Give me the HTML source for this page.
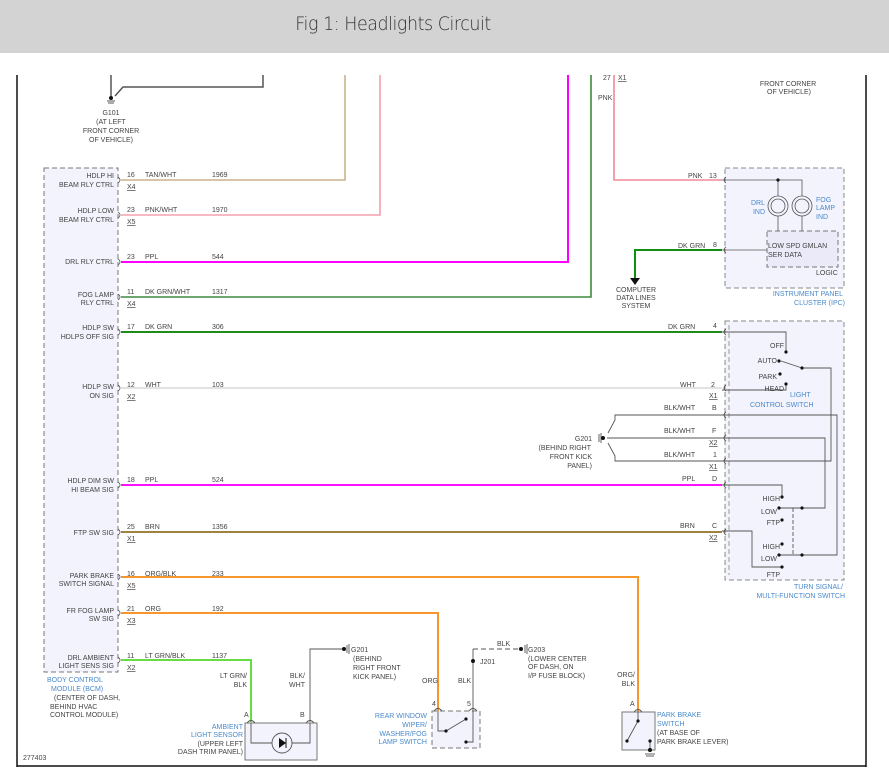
<!DOCTYPE html>
<html><head><meta charset="utf-8"><style>
html,body{margin:0;padding:0;background:#fff;}
body{width:889px;height:784px;overflow:hidden;position:relative;}
#hdr{position:absolute;left:0;top:0;width:889px;height:53px;background:#d3d3d3;}
#hdr span{position:absolute;left:0;width:786px;top:13px;text-align:center;font:19px "DejaVu Sans","Liberation Sans",sans-serif;font-weight:200;color:#333;letter-spacing:-0.5px;transform:scaleX(0.92);transform-origin:393px 0;}
svg{position:absolute;left:0;top:0;}
text{font-family:"Liberation Sans",sans-serif;font-size:7px;fill:#444;}
.b{fill:#4a8acb;}
.r{text-anchor:end;}
.m{text-anchor:middle;}
</style></head><body>
<div id="hdr"><span>Fig 1: Headlights Circuit</span></div>
<svg width="889" height="784" viewBox="0 0 889 784">
<!-- frame -->
<line x1="17" y1="75" x2="17" y2="767" stroke="#111" stroke-width="1.5"/>
<line x1="866" y1="75" x2="866" y2="767" stroke="#111" stroke-width="1.5"/>
<line x1="17" y1="766" x2="866" y2="766" stroke="#111" stroke-width="1.5"/>

<!-- BCM -->
<rect x="44" y="168" width="74" height="504" fill="#f3f3fd" stroke="#777" stroke-dasharray="5,3"/>
<!-- IPC -->
<rect x="725" y="168" width="119" height="120" fill="#f3f3fd" stroke="#888" stroke-dasharray="5,3"/>
<rect x="767" y="231" width="71" height="36" fill="#eaeaf8" stroke="#777" stroke-dasharray="5,3"/>
<!-- switch box -->
<rect x="725" y="321" width="119" height="259" fill="#f3f3fd" stroke="#888" stroke-dasharray="5,3"/>
<line x1="729" y1="325" x2="729" y2="575" stroke="#999" stroke-dasharray="5,3"/>

<!-- G101 -->
<line x1="111" y1="75" x2="111" y2="96" stroke="#555" stroke-width="1.5"/>
<polyline points="263,75 263,87 123,87 115,96" fill="none" stroke="#555" stroke-width="1.5"/>
<circle cx="111" cy="98" r="2" fill="#111"/>
<line x1="107" y1="101" x2="115" y2="101" stroke="#555"/><line x1="108" y1="103" x2="114" y2="103" stroke="#555"/>
<text x="111" y="115" class="m">G101</text><text x="111" y="124" class="m">(AT LEFT</text>
<text x="111" y="133" class="m">FRONT CORNER</text><text x="111" y="142" class="m">OF VEHICLE)</text>
<text x="788" y="86" class="m">FRONT CORNER</text><text x="789" y="94" class="m">OF VEHICLE)</text>
<text x="603" y="80">27</text><text x="618" y="80" text-decoration="underline">X1</text>
<text x="598" y="100">PNK</text>

<!-- wires -->
<g fill="none" stroke-width="1.6">
<polyline points="121,180 345,180 345,75" stroke="#c9b48a"/>
<polyline points="121,215 380,215 380,75" stroke="#f4a0ad"/>
<polyline points="121,262 568,262 568,75" stroke="#ff00ff" stroke-width="2"/>
<polyline points="121,297 591,297 591,75" stroke="#3d8a3d"/>
<polyline points="614,75 614,180 722,180" stroke="#f08898"/>
<polyline points="635,278 635,250 722,250" stroke="#109010" stroke-width="2"/>
<line x1="121" y1="332" x2="722" y2="332" stroke="#1c8c1c" stroke-width="2"/>
<line x1="121" y1="388" x2="722" y2="388" stroke="#d8d8d8"/>
<line x1="121" y1="485" x2="722" y2="485" stroke="#ff10ff" stroke-width="2"/>
<line x1="121" y1="532" x2="722" y2="532" stroke="#9e8240" stroke-width="2"/>
<polyline points="121,577 638,577 638,712" stroke="#f7962a" stroke-width="2"/>
<polyline points="121,613 438,613 438,711" stroke="#f7962a" stroke-width="2"/>
<polyline points="121,660 251,660 251,722" stroke="#66dd44" stroke-width="2"/>
</g>
<polygon points="630,278 640,278 635,285" fill="#111"/>
<text x="636" y="292" class="m">COMPUTER</text><text x="636" y="300" class="m">DATA LINES</text><text x="636" y="308" class="m">SYSTEM</text>

<!-- BCM connector ticks -->
<g fill="none" stroke="#555" stroke-width="0.8">
<path d="M118,177 q4,3 0,6"/><path d="M118,212 q4,3 0,6"/><path d="M118,259 q4,3 0,6"/><path d="M118,294 q4,3 0,6"/>
<path d="M118,329 q4,3 0,6"/><path d="M118,385 q4,3 0,6"/><path d="M118,482 q4,3 0,6"/><path d="M118,529 q4,3 0,6"/>
<path d="M118,574 q4,3 0,6"/><path d="M118,610 q4,3 0,6"/><path d="M118,657 q4,3 0,6"/>
</g>
<!-- BCM labels -->
<g>
<text x="114" y="178" class="r">HDLP HI</text><text x="114" y="187" class="r">BEAM RLY CTRL</text>
<text x="127" y="177">16</text><text x="145" y="177">TAN/WHT</text><text x="212" y="177">1969</text><text x="127" y="189" text-decoration="underline">X4</text>
<text x="114" y="213" class="r">HDLP LOW</text><text x="114" y="222" class="r">BEAM RLY CTRL</text>
<text x="127" y="212">23</text><text x="145" y="212">PNK/WHT</text><text x="212" y="212">1970</text><text x="127" y="224" text-decoration="underline">X5</text>
<text x="114" y="264" class="r">DRL RLY CTRL</text>
<text x="127" y="259">23</text><text x="145" y="259">PPL</text><text x="212" y="259">544</text>
<text x="114" y="297" class="r">FOG LAMP</text><text x="114" y="305" class="r">RLY CTRL</text>
<text x="127" y="294">11</text><text x="145" y="294">DK GRN/WHT</text><text x="212" y="294">1317</text><text x="127" y="306" text-decoration="underline">X4</text>
<text x="114" y="330" class="r">HDLP SW</text><text x="114" y="339" class="r">HDLPS OFF SIG</text>
<text x="127" y="329">17</text><text x="145" y="329">DK GRN</text><text x="212" y="329">306</text>
<text x="114" y="389" class="r">HDLP SW</text><text x="114" y="398" class="r">ON SIG</text>
<text x="127" y="387">12</text><text x="145" y="387">WHT</text><text x="212" y="387">103</text><text x="127" y="399" text-decoration="underline">X2</text>
<text x="114" y="483" class="r">HDLP DIM SW</text><text x="114" y="492" class="r">HI BEAM SIG</text>
<text x="127" y="482">18</text><text x="145" y="482">PPL</text><text x="212" y="482">524</text>
<text x="114" y="535" class="r">FTP SW SIG</text>
<text x="127" y="529">25</text><text x="145" y="529">BRN</text><text x="212" y="529">1356</text><text x="127" y="541" text-decoration="underline">X1</text>
<text x="114" y="578" class="r">PARK BRAKE</text><text x="114" y="586" class="r">SWITCH SIGNAL</text>
<text x="127" y="576">16</text><text x="145" y="576">ORG/BLK</text><text x="212" y="576">233</text><text x="127" y="588" text-decoration="underline">X5</text>
<text x="114" y="613" class="r">FR FOG LAMP</text><text x="114" y="621" class="r">SW SIG</text>
<text x="127" y="611">21</text><text x="145" y="611">ORG</text><text x="212" y="611">192</text><text x="127" y="623" text-decoration="underline">X3</text>
<text x="114" y="660" class="r">DRL AMBIENT</text><text x="114" y="668" class="r">LIGHT SENS SIG</text>
<text x="127" y="658">11</text><text x="145" y="658">LT GRN/BLK</text><text x="212" y="658">1137</text><text x="127" y="670" text-decoration="underline">X2</text>
<text x="47" y="682" class="b">BODY CONTROL</text><text x="51" y="691" class="b">MODULE (BCM)</text>
<text x="54" y="700">(CENTER OF DASH,</text><text x="50" y="709">BEHIND HVAC</text><text x="50" y="717">CONTROL MODULE)</text>
<text x="23" y="760">277403</text>
</g>

<!-- IPC internals -->
<g fill="none" stroke="#555" stroke-width="0.8">
<path d="M726,177 q-4,3 0,6"/><path d="M726,247 q-4,3 0,6"/>
<polyline points="722,180 802,180 802,196"/><line x1="778" y1="180" x2="778" y2="196"/>
<circle cx="778" cy="206" r="10"/><circle cx="802" cy="206" r="10"/>
<circle cx="778" cy="206" r="7"/><circle cx="802" cy="206" r="7"/>
<line x1="778" y1="216" x2="778" y2="231"/><line x1="802" y1="216" x2="802" y2="231"/>
<line x1="722" y1="250" x2="767" y2="250"/>
</g>
<circle cx="778" cy="180" r="1.6" fill="#111"/>
<text x="688" y="178">PNK</text><text x="709" y="178">13</text>
<text x="678" y="248">DK GRN</text><text x="713" y="247">8</text>
<text x="765" y="205" class="b r">DRL</text><text x="765" y="214" class="b r">IND</text>
<text x="816" y="202" class="b">FOG</text><text x="816" y="210" class="b">LAMP</text><text x="816" y="219" class="b">IND</text>
<text x="768" y="248">LOW SPD GMLAN</text><text x="768" y="257">SER DATA</text>
<text x="816" y="275">LOGIC</text>
<text x="843" y="296" class="b r">INSTRUMENT PANEL</text><text x="845" y="305" class="b r">CLUSTER (IPC)</text>

<!-- switch internals -->
<g fill="none" stroke="#555" stroke-width="0.9">
<path d="M726,329 q-4,3 0,6"/><path d="M726,385 q-4,3 0,6"/><path d="M726,412 q-4,3 0,6"/><path d="M726,435 q-4,3 0,6"/>
<path d="M726,458 q-4,3 0,6"/><path d="M726,482 q-4,3 0,6"/><path d="M726,529 q-4,3 0,6"/>
<polyline points="722,332 786,332 786,352"/>
<line x1="781" y1="361" x2="802" y2="368"/>
<polyline points="802,368 831,368 831,461 722,461"/>
<polyline points="786,384 786,390 722,390"/>
<polyline points="722,415 837,415 837,555 779,555"/>
<polyline points="722,438 825,438 825,508 779,508"/>
<polyline points="722,485 782,485 782,497"/>
<polyline points="722,531 752,531 752,567 782,567"/>
<line x1="793" y1="508" x2="793" y2="555" stroke-dasharray="4,2"/>
<!-- G201 mid -->
<line x1="607" y1="438" x2="722" y2="438"/>
<polyline points="608,433 615,420 615,415 722,415"/>
<polyline points="608,443 615,456 615,461 722,461"/>
<line x1="599" y1="434" x2="599" y2="442"/><line x1="601" y1="433" x2="601" y2="443"/>
</g>
<circle cx="603" cy="438" r="2" fill="#111"/>
<g fill="#111">
<circle cx="786" cy="352" r="1.6"/><circle cx="779" cy="361" r="1.6"/><circle cx="802" cy="368" r="1.6"/>
<circle cx="780" cy="374" r="1.6"/><circle cx="786" cy="384" r="1.6"/>
<circle cx="782" cy="497" r="1.6"/><circle cx="779" cy="508" r="1.6"/><circle cx="802" cy="508" r="1.6"/><circle cx="782" cy="520" r="1.6"/>
<circle cx="782" cy="544" r="1.6"/><circle cx="779" cy="555" r="1.6"/><circle cx="802" cy="555" r="1.6"/><circle cx="782" cy="567" r="1.6"/>
</g>
<text x="668" y="329">DK GRN</text><text x="713" y="328">4</text>
<text x="680" y="387">WHT</text><text x="711" y="387">2</text><text x="709" y="398" text-decoration="underline">X1</text>
<text x="664" y="410">BLK/WHT</text><text x="712" y="410">B</text>
<text x="664" y="433">BLK/WHT</text><text x="712" y="433">F</text><text x="709" y="445" text-decoration="underline">X2</text>
<text x="664" y="457">BLK/WHT</text><text x="713" y="457">1</text><text x="709" y="469" text-decoration="underline">X1</text>
<text x="682" y="481">PPL</text><text x="712" y="481">D</text>
<text x="680" y="528">BRN</text><text x="712" y="528">C</text><text x="709" y="540" text-decoration="underline">X2</text>
<text x="784" y="348" class="r">OFF</text><text x="777" y="363" class="r">AUTO</text><text x="777" y="379" class="r">PARK</text><text x="784" y="391" class="r">HEAD</text>
<text x="790" y="397" class="b">LIGHT</text><text x="750" y="407" class="b">CONTROL SWITCH</text>
<text x="780" y="501" class="r">HIGH</text><text x="777" y="514" class="r">LOW</text><text x="780" y="525" class="r">FTP</text>
<text x="780" y="549" class="r">HIGH</text><text x="777" y="561" class="r">LOW</text><text x="780" y="577" class="r">FTP</text>
<text x="843" y="589" class="b r">TURN SIGNAL/</text><text x="845" y="598" class="b r">MULTI-FUNCTION SWITCH</text>
<text x="592" y="441" class="r">G201</text><text x="591" y="450" class="r">(BEHIND RIGHT</text>
<text x="592" y="459" class="r">FRONT KICK</text><text x="592" y="468" class="r">PANEL)</text>

<!-- Ambient light sensor -->
<rect x="245" y="723" width="72" height="37" fill="#f3f3fd" stroke="#777"/>
<g fill="none" stroke="#555" stroke-width="0.9">
<path d="M247,723 q4,-5 8,0"/><path d="M306,723 q4,-5 8,0"/>
<polyline points="251,723 251,743 310,743 310,723"/>
<circle cx="282" cy="743" r="10" fill="#f3f3fd"/>
<polyline points="310,722 310,649 343,649"/>
<line x1="347" y1="645" x2="347" y2="653"/><line x1="349" y1="644" x2="349" y2="654"/>
</g>
<polygon points="279,738 279,748 286,743" fill="#111"/><line x1="286" y1="738" x2="286" y2="748" stroke="#111"/>
<circle cx="344" cy="649" r="2" fill="#111"/>
<text x="351" y="652">G201</text><text x="353" y="661">(BEHIND</text><text x="353" y="670">RIGHT FRONT</text><text x="353" y="679">KICK PANEL)</text>
<text x="247" y="678" class="r">LT GRN/</text><text x="247" y="687" class="r">BLK</text>
<text x="305" y="678" class="r">BLK/</text><text x="305" y="687" class="r">WHT</text>
<text x="244" y="717">A</text><text x="300" y="717">B</text>
<text x="243" y="729" class="b r">AMBIENT</text><text x="243" y="737" class="b r">LIGHT SENSOR</text>
<text x="243" y="746" class="r">(UPPER LEFT</text><text x="243" y="754" class="r">DASH TRIM PANEL)</text>

<!-- Rear wiper switch -->
<rect x="432" y="711" width="48" height="37" fill="#f3f3fd" stroke="#777" stroke-dasharray="5,3"/>
<g fill="none" stroke="#555" stroke-width="0.9">
<path d="M434,711 q4,-5 8,0"/><path d="M469,711 q4,-5 8,0"/>
<polyline points="438,711 438,731 446,731"/><line x1="446" y1="731" x2="466" y2="719"/>
<polyline points="466,742 473,742 473,711"/>
<line x1="473" y1="711" x2="473" y2="649"/>
<polyline points="473,649 521,649" stroke-dasharray="5,3"/>
<line x1="525" y1="645" x2="525" y2="653"/><line x1="527" y1="644" x2="527" y2="654"/>
</g>
<g fill="#111"><circle cx="446" cy="731" r="1.6"/><circle cx="466" cy="719" r="1.6"/><circle cx="466" cy="742" r="1.6"/>
<circle cx="473" cy="661" r="2"/><circle cx="521" cy="649" r="2"/></g>
<text x="497" y="646">BLK</text>
<text x="480" y="664">J201</text>
<text x="528" y="652">G203</text><text x="528" y="661">(LOWER CENTER</text><text x="528" y="669">OF DASH, ON</text><text x="528" y="678">I/P FUSE BLOCK)</text>
<text x="422" y="683">ORG</text><text x="458" y="683">BLK</text>
<text x="432" y="706">4</text><text x="467" y="706">5</text>
<text x="427" y="718" class="b r">REAR WINDOW</text><text x="427" y="727" class="b r">WIPER/</text>
<text x="427" y="736" class="b r">WASHER/FOG</text><text x="427" y="744" class="b r">LAMP SWITCH</text>

<!-- Park brake switch -->
<rect x="622" y="712" width="33" height="38" fill="#f3f3fd" stroke="#777"/>
<g fill="none" stroke="#555" stroke-width="0.9">
<path d="M634,712 q4,-5 8,0"/>
<line x1="638" y1="712" x2="638" y2="721"/>
<line x1="638" y1="721" x2="627" y2="741"/>
<line x1="650" y1="741" x2="650" y2="752"/>
<line x1="645" y1="754" x2="655" y2="754"/><line x1="646" y1="756" x2="654" y2="756"/>
</g>
<g fill="#111"><circle cx="638" cy="721" r="1.6"/><circle cx="627" cy="741" r="1.6"/><circle cx="650" cy="741" r="1.6"/><circle cx="650" cy="750" r="2"/></g>
<text x="635" y="677" class="r">ORG/</text><text x="635" y="686" class="r">BLK</text>
<text x="630" y="706">A</text>
<text x="657" y="717" class="b">PARK BRAKE</text><text x="657" y="726" class="b">SWITCH</text>
<text x="657" y="735">(AT BASE OF</text><text x="657" y="744">PARK BRAKE LEVER)</text>
</svg>
</body></html>
